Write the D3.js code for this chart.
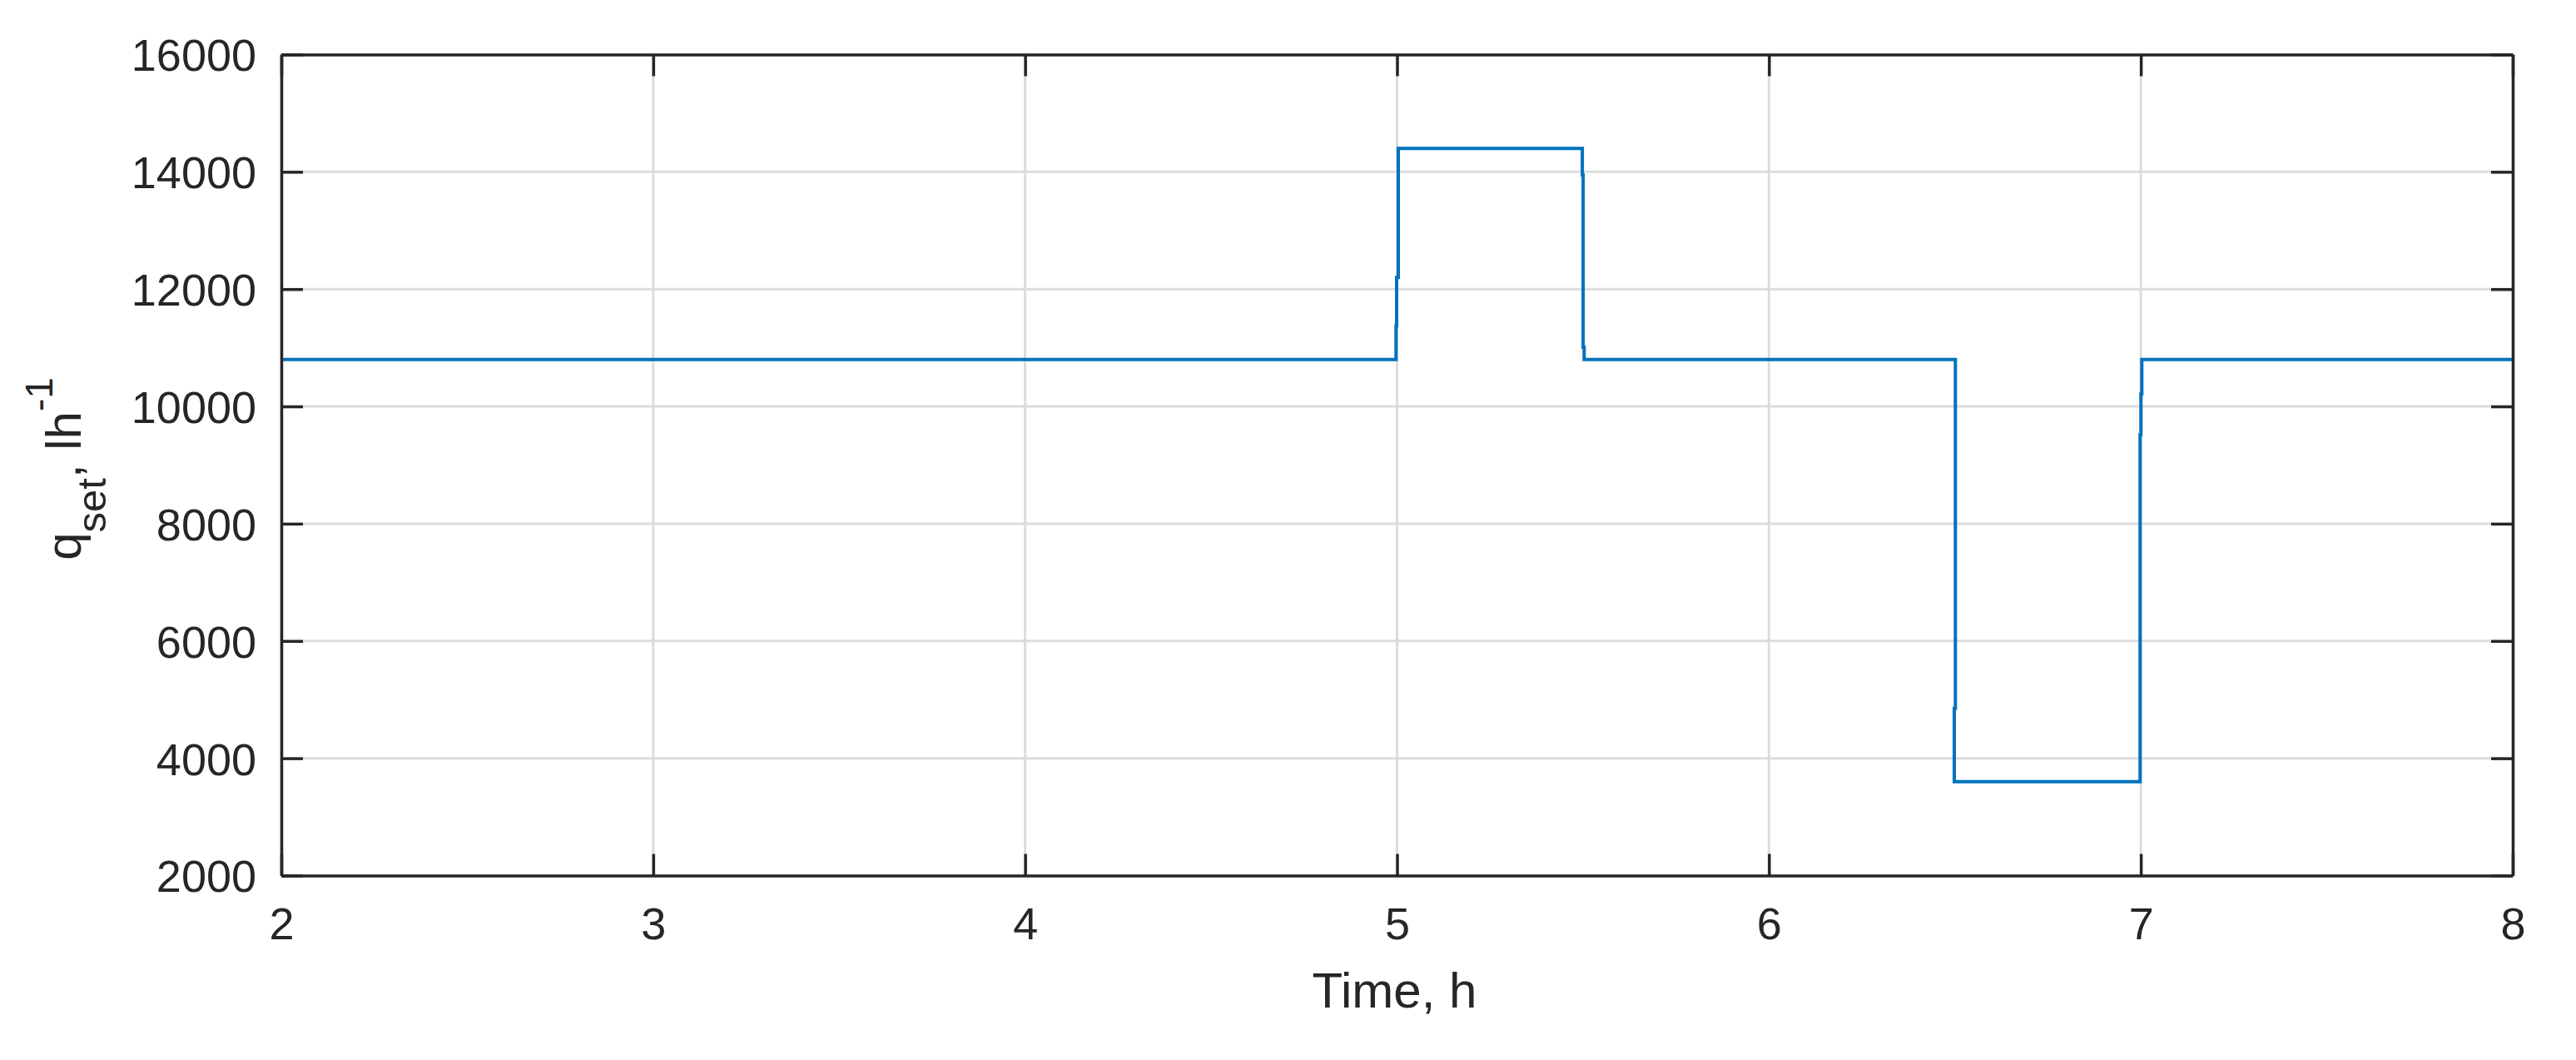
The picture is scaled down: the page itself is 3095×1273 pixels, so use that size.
<!DOCTYPE html>
<html>
<head>
<meta charset="utf-8">
<script src="https://d3js.org/d3.v7.min.js"></script>
<style>
  body { margin: 0; background: #fff; }
  text { font-family: "Liberation Sans", Arial, Helvetica, sans-serif; fill: #262626; }
</style>
</head>
<body>
<div id="chart"></div>
<script>
// data (time in hours, flow setpoint in l/h)
var timeH = [2, 4.9973, 4.9973, 4.9989, 4.9989, 5.0034, 5.0034, 5.4982, 5.4982, 5.5004, 5.5004, 5.5031, 5.5031,
  6.5013, 6.5013, 6.4984, 6.4984, 6.9980, 6.9980, 7.0003, 7.0003, 7.0026, 7.0026, 8];
var qSet = [10800, 10800, 11370, 11370, 12200, 12200, 14400, 14400, 13950, 13950, 11010, 11010, 10800,
  10800, 4850, 4850, 3600, 3600, 9520, 9520, 10210, 10210, 10800, 10800];

var xTicks = [2, 3, 4, 5, 6, 7, 8];
var yTicks = [2000, 4000, 6000, 8000, 10000, 12000, 14000, 16000];

//chart parameters
var svgWidth = 3095;
var svgHeight = 1273;
var margin = {top: 65.5, right: 76, bottom: 221.5, left: 338};
var width = svgWidth - margin.left - margin.right;
var height = svgHeight - margin.top - margin.bottom;

var axisColor = "#262626";

var svg = d3.select("#chart")
  .append("svg")
  .attr("width", svgWidth)
  .attr("height", svgHeight);

var chart = svg.append("g")
  .attr("transform", "translate(" + margin.left + "," + margin.top + ")");

var xScale = d3.scaleLinear().domain([2, 8]).range([0, width]);
var yScale = d3.scaleLinear().domain([2000, 16000]).range([height, 0]);

// grid
chart.append("g")
  .selectAll("line")
  .data(xTicks)
  .enter()
  .append("line")
  .attr("x1", function(d) { return xScale(d); })
  .attr("x2", function(d) { return xScale(d); })
  .attr("y1", 0)
  .attr("y2", height)
  .attr("stroke", "#dcdcdc")
  .attr("stroke-width", 3);

chart.append("g")
  .selectAll("line")
  .data(yTicks)
  .enter()
  .append("line")
  .attr("x1", 0)
  .attr("x2", width)
  .attr("y1", function(d) { return yScale(d); })
  .attr("y2", function(d) { return yScale(d); })
  .attr("stroke", "#dcdcdc")
  .attr("stroke-width", 3);

// the step line
var line = d3.line()
  .x(function(d, i) { return xScale(timeH[i]); })
  .y(function(d) { return yScale(d); });

chart.append("path")
  .attr("d", line(qSet))
  .attr("fill", "none")
  .attr("stroke", "#0072BD")
  .attr("stroke-width", 4);

// axes, ticks point inward on all four sides
var fmt = d3.format("d");
var bottomAxis = d3.axisBottom(xScale).tickValues(xTicks).tickFormat(fmt).tickSize(-26).tickSizeOuter(0).tickPadding(38);
var topAxis = d3.axisTop(xScale).tickValues(xTicks).tickSize(-26).tickSizeOuter(0).tickFormat("");
var leftAxis = d3.axisLeft(yScale).tickValues(yTicks).tickFormat(fmt).tickSize(-26).tickSizeOuter(0).tickPadding(30);
var rightAxis = d3.axisRight(yScale).tickValues(yTicks).tickSize(-26).tickSizeOuter(0).tickFormat("");

var gBottom = chart.append("g").attr("transform", "translate(0," + height + ")").call(bottomAxis);
var gTop = chart.append("g").call(topAxis);
var gLeft = chart.append("g").call(leftAxis);
var gRight = chart.append("g").attr("transform", "translate(" + width + ",0)").call(rightAxis);

[gBottom, gTop, gLeft, gRight].forEach(function(g) {
  g.selectAll("path, line")
    .attr("stroke", axisColor)
    .attr("stroke-width", 3.5);
  g.selectAll("text")
    .attr("fill", axisColor)
    .style("font-size", "54px")
    .style("font-family", "'Liberation Sans', Arial, Helvetica, sans-serif");
});
gLeft.selectAll("text").attr("dy", "0.36em");

// x label
chart.append("text")
  .attr("x", width / 2 - 3)
  .attr("y", 1210 - margin.top)
  .style("text-anchor", "middle")
  .style("font-size", "60px")
  .text("Time, h");

// y label with sub and superscript
var yLabel = chart.append("text")
  .attr("transform", "translate(" + (97 - margin.left) + "," + (563 - margin.top) + ") rotate(-90)")
  .style("text-anchor", "middle")
  .style("font-size", "60px");
yLabel.append("tspan").text("q");
yLabel.append("tspan").attr("dy", 30).style("font-size", "49px").text("set");
yLabel.append("tspan").attr("dy", -30).text(", lh");
yLabel.append("tspan").attr("dy", -34).style("font-size", "46px").text("-1");
</script>
</body>
</html>
